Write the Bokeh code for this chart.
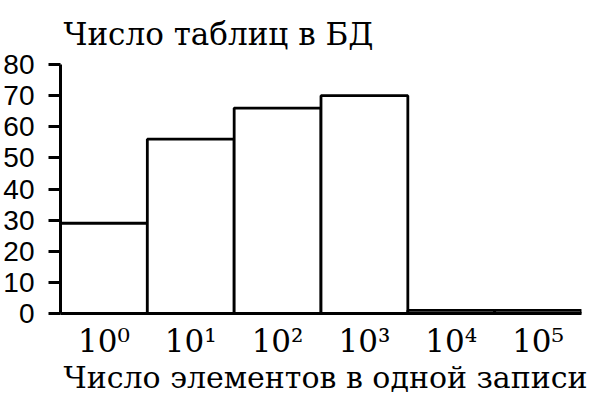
from bokeh.plotting import figure
from bokeh.models import FactorRange, Range1d, FixedTicker, Title
from bokeh.embed import file_html
from bokeh.resources import INLINE

# ---- data ----
categories = ["10⁰", "10¹", "10²", "10³", "10⁴", "10⁵"]
counts = [29, 56, 66, 70, 1, 1]
y_ticks = [0, 10, 20, 30, 40, 50, 60, 70, 80]
title_text = "Число таблиц в БД"
x_title = "Число элементов в одной записи"

SERIF = "DejaVu Serif"
SANS = "Liberation Sans"

p = figure(width=600, height=394,
           x_range=FactorRange(factors=categories),
           y_range=Range1d(0, 80),
           output_backend="svg", toolbar_location=None,
           min_border_left=60, min_border_right=19,
           min_border_top=64, min_border_bottom=81)

p.vbar(x=categories, top=counts, bottom=0, width=1,
       fill_color="white", line_color="black", line_width=2.8)

p.title.text = title_text
p.title.align = "left"
p.title.vertical_align = "bottom"
p.title.offset = 3
p.title.standoff = 26
p.title.text_font = SERIF
p.title.text_font_size = "31px"
p.title.text_font_style = "normal"
p.title.text_color = "black"

p.add_layout(Title(text=x_title, align="left", offset=3, standoff=-8,
                   vertical_align="bottom",
                   text_font=SERIF, text_font_size="30px",
                   text_font_style="normal", text_color="black"), "below")

p.xgrid.grid_line_color = None
p.ygrid.grid_line_color = None
p.outline_line_color = None
p.background_fill_color = "white"
p.border_fill_color = "white"

# y axis
ya = p.yaxis[0]
ya.ticker = FixedTicker(ticks=y_ticks)
ya.axis_line_width = 3
ya.axis_line_color = "black"
ya.major_tick_line_width = 3
ya.major_tick_line_color = "black"
ya.major_tick_out = 12
ya.major_tick_in = 0
ya.minor_tick_line_color = None
ya.major_label_text_font = SANS
ya.major_label_text_font_size = "28px"
ya.major_label_text_color = "black"
ya.major_label_standoff = 14

# x axis
xa = p.xaxis[0]
xa.axis_line_width = 3
xa.axis_line_color = "black"
xa.major_tick_line_color = None
xa.major_tick_out = 0
xa.major_tick_in = 0
xa.minor_tick_line_color = None
xa.major_label_text_font = SERIF
xa.major_label_text_font_size = "31px"
xa.major_label_text_color = "black"
xa.major_label_standoff = 9

open("out.html", "w").write(file_html(p, INLINE))
